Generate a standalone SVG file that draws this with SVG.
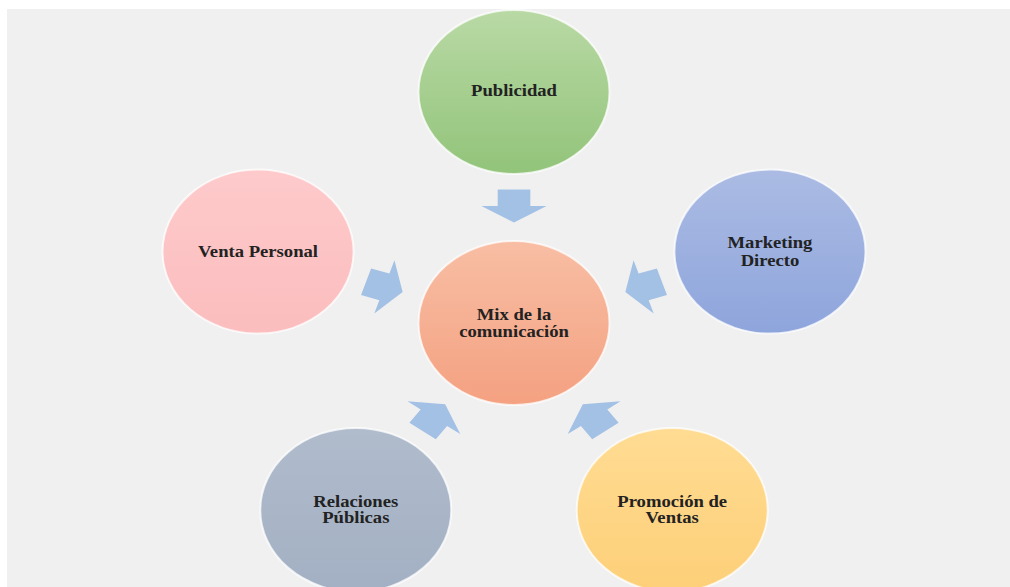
<svg xmlns="http://www.w3.org/2000/svg" width="1010" height="587" viewBox="0 0 1010 587">
<style>
.node{stroke:#ffffff;stroke-opacity:0.75;stroke-width:2}
.lbl{font-family:"Liberation Serif","Times New Roman",serif;font-weight:bold;font-size:16px;text-anchor:middle;fill:#222222}
.arr{fill:#a3c1e5}
</style>
<defs>
<linearGradient id="gGreen" x1="0" y1="0" x2="0" y2="1"><stop offset="0" stop-color="#b9d9a5"/><stop offset="1" stop-color="#92c47a"/></linearGradient>
<linearGradient id="gPink" x1="0" y1="0" x2="0" y2="1"><stop offset="0" stop-color="#fecacb"/><stop offset="1" stop-color="#fbbdbe"/></linearGradient>
<linearGradient id="gBlue" x1="0" y1="0" x2="0" y2="1"><stop offset="0" stop-color="#abbbe3"/><stop offset="1" stop-color="#8ea5dc"/></linearGradient>
<linearGradient id="gOrange" x1="0" y1="0" x2="0" y2="1"><stop offset="0" stop-color="#f8bea4"/><stop offset="1" stop-color="#f4a181"/></linearGradient>
<linearGradient id="gGray" x1="0" y1="0" x2="0" y2="1"><stop offset="0" stop-color="#b0bccc"/><stop offset="1" stop-color="#a3b0c3"/></linearGradient>
<linearGradient id="gYellow" x1="0" y1="0" x2="0" y2="1"><stop offset="0" stop-color="#ffdc93"/><stop offset="1" stop-color="#fdcf78"/></linearGradient>
<path id="arrow" d="M-14,-16.5 L14,-16.5 L14,0 L28,0 L0,16.5 L-28,0 L-14,0 Z"/>
</defs>
<rect x="7" y="9" width="1003" height="578" fill="#f0f0f0"/>
<g transform="translate(514,323) scale(1.165,1)">
<g id="connectors">
<use href="#arrow" class="arr" transform="rotate(0) translate(0,-117)"/>
<use href="#arrow" class="arr" transform="rotate(72) translate(0,-117)"/>
<use href="#arrow" class="arr" transform="rotate(144) translate(0,-117)"/>
<use href="#arrow" class="arr" transform="rotate(-144) translate(0,-117)"/>
<use href="#arrow" class="arr" transform="rotate(-72) translate(0,-117)"/>
</g>
<g id="center">
<circle class="node" cx="0" cy="0" r="82" fill="url(#gOrange)" vector-effect="non-scaling-stroke"/>
<text class="lbl" x="0" y="-3" fill="#2a1a12">Mix de la</text>
<text class="lbl" x="0" y="14">comunicación</text>
</g>
<g id="publicidad">
<circle class="node" cx="0" cy="-231" r="82" fill="url(#gGreen)" vector-effect="non-scaling-stroke"/>
<text class="lbl" x="0" y="-227">Publicidad</text>
</g>
<g id="marketing">
<circle class="node" cx="219.7" cy="-71.4" r="82" fill="url(#gBlue)" vector-effect="non-scaling-stroke"/>
<text class="lbl" x="219.7" y="-75">Marketing</text>
<text class="lbl" x="219.7" y="-57.5">Directo</text>
</g>
<g id="promocion">
<circle class="node" cx="135.8" cy="186.9" r="82" fill="url(#gYellow)" vector-effect="non-scaling-stroke"/>
<text class="lbl" x="135.8" y="184">Promoción de</text>
<text class="lbl" x="135.8" y="200.5">Ventas</text>
</g>
<g id="relaciones">
<circle class="node" cx="-135.8" cy="186.9" r="82" fill="url(#gGray)" vector-effect="non-scaling-stroke"/>
<text class="lbl" x="-135.8" y="184">Relaciones</text>
<text class="lbl" x="-135.8" y="200.5">Públicas</text>
</g>
<g id="venta">
<circle class="node" cx="-219.7" cy="-71.4" r="82" fill="url(#gPink)" vector-effect="non-scaling-stroke"/>
<text class="lbl" x="-219.7" y="-66.5">Venta Personal</text>
</g>
</g>
</svg>
